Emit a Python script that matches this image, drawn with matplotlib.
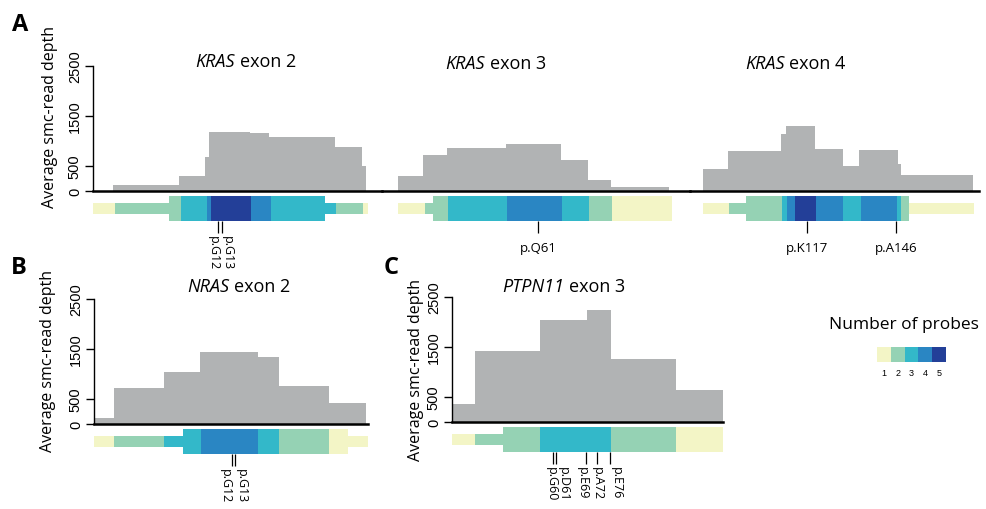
import matplotlib
matplotlib.use('Agg')
import matplotlib.pyplot as plt

plt.rcParams['font.family'] = ['Open Sans', 'DejaVu Sans']

probe_colors = ['#f3f5c6', '#95d2b4', '#33b8c9', '#2a86c3', '#233f98']
depth_gray = '#b1b3b4'

# KRAS exon 2
k2_edges = [20, 86, 112, 116, 157, 176, 242, 269, 273]
k2_depth = [120, 300, 675, 1175, 1160, 1075, 875, 505]
k2_seg = [0, 22, 76, 88, 114, 118, 158, 178, 232, 243, 270, 275]
k2_n = [1, 2, 2, 3, 4, 5, 4, 3, 3, 2, 1]
k2_core = [0, 0, 1, 1, 1, 1, 1, 1, 0, 0, 0]
k2_mut = ['p.G12', 'p.G13']
k2_mut_pos = [125, 129]
k2_lab_pos = [120, 134]

# KRAS exon 3
k3_edges = [0, 25, 49, 108, 163, 190, 213, 271]
k3_depth = [310, 713, 867, 933, 620, 220, 87]
k3_seg = [0, 27, 35, 50, 109, 164, 191, 214, 274]
k3_n = [1, 2, 2, 3, 4, 3, 2, 1]
k3_core = [0, 0, 1, 1, 1, 1, 1, 1]
k3_mut = ['p.Q61']
k3_mut_pos = [140]

# KRAS exon 4
k4_edges = [0, 25, 78, 83, 112, 140, 156, 195, 198, 270]
k4_depth = [450, 800, 1150, 1300, 847, 500, 813, 533, 330]
k4_seg = [0, 26, 43, 79, 84, 92, 113, 140, 158, 194, 198, 206, 271]
k4_n = [1, 2, 2, 3, 4, 5, 4, 3, 4, 3, 2, 1]
k4_core = [0, 0, 1, 1, 1, 1, 1, 1, 1, 1, 1, 0]
k4_mut = ['p.K117', 'p.A146']
k4_mut_pos = [104, 193]

# NRAS exon 2
n2_edges = [0, 20, 70, 106, 164, 185, 235, 272]
n2_depth = [113, 713, 1033, 1447, 1347, 753, 420]
n2_seg = [0, 20, 70, 89, 107, 164, 185, 235, 254, 274]
n2_n = [1, 2, 3, 3, 4, 3, 2, 1, 1]
n2_core = [0, 0, 0, 1, 1, 1, 1, 1, 0]
n2_mut = ['p.G12', 'p.G13']
n2_mut_pos = [138, 141]
n2_lab_pos = [131, 147]

# PTPN11 exon 3
p3_edges = [0, 23, 88, 135, 159, 224, 271]
p3_depth = [367, 1413, 2033, 2247, 1253, 633]
p3_seg = [0, 23, 51, 88, 159, 224, 272]
p3_n = [1, 2, 2, 3, 2, 1]
p3_core = [0, 0, 1, 1, 1, 1]
p3_mut = ['p.G60', 'p.D61', 'p.E69', 'p.A72', 'p.E76']
p3_mut_pos = [100.6, 104, 134, 145, 158]
p3_lab_pos = [99, 111, 130.5, 145.5, 164]

W, H = 986, 510
fig = plt.figure(figsize=(W / 100, H / 100), dpi=100)


def px_axes(left, right, top, bottom):
    return fig.add_axes([left / W, 1 - bottom / H, (right - left) / W, (bottom - top) / H])


def exon_panel(ax, edges, depth, seg, n, core, xlim, yaxis=True):
    ax.stairs(depth, edges, fill=True, color=depth_gray, linewidth=0)
    for i in range(len(n)):
        lo, hi = (-600, -100) if core[i] else (-460, -240)
        ax.bar(seg[i], hi - lo, bottom=lo, width=seg[i + 1] - seg[i], align='edge',
               color=probe_colors[n[i] - 1], linewidth=0)
    ax.set_xlim(*xlim)
    ax.set_ylim(-860, 2500)
    ax.set_xticks([])
    for s in ['top', 'right']:
        ax.spines[s].set_visible(False)
    ax.spines['bottom'].set_position(('data', 0))
    ax.spines['bottom'].set_linewidth(1.8)
    ax.patch.set_alpha(0)
    if yaxis:
        ax.spines['left'].set_bounds(0, 2500)
        ax.spines['left'].set_linewidth(1)
        ax.set_yticks([0, 500, 1500, 2500])
        ax.set_yticklabels(['0', '500', '1500', '2500'], rotation=90, va='center',
                           family=['Liberation Sans Narrow', 'Liberation Sans'], fontsize=10.5)
        ax.tick_params(axis='y', length=6, width=1, pad=2)
    else:
        ax.spines['left'].set_visible(False)
        ax.set_yticks([])


def marks(ax, names, pos, lab_pos=None):
    ax.vlines(pos, -840, -600, color='black', linewidth=0.9, clip_on=False)
    for i, name in enumerate(names):
        if lab_pos is None:
            ax.text(pos[i], -1000, name, ha='center', va='top', fontsize=9.5)
        else:
            ax.text(lab_pos[i], -880, name, ha='center', va='top', rotation=270, fontsize=9)


def title(ax, gene, rest, x, y):
    t = ax.text(x, y, gene, transform=ax.transAxes, style='italic',
                ha='left', va='baseline', fontsize=13)
    ax.annotate(rest, xy=(1, 0), xycoords=t, xytext=(3.5, 0), textcoords='offset points',
                ha='left', va='bottom', fontsize=13)


def ylab(ax, x, y):
    ax.text(x, y, 'Average smc-read depth', transform=ax.transAxes, rotation=90,
            ha='center', va='center', fontsize=11.5)


# row A
ax_k2 = px_axes(93, 382, 67, 235)
exon_panel(ax_k2, k2_edges, k2_depth, k2_seg, k2_n, k2_core, (0, 289))
marks(ax_k2, k2_mut, k2_mut_pos, k2_lab_pos)
title(ax_k2, 'KRAS', 'exon 2', 0.353, 1.0)
ylab(ax_k2, -0.149, 0.70)

ax_k3 = px_axes(382, 690, 67, 235)
exon_panel(ax_k3, k3_edges, k3_depth, k3_seg, k3_n, k3_core, (-16, 292), yaxis=False)
marks(ax_k3, k3_mut, k3_mut_pos)
title(ax_k3, 'KRAS', 'exon 3', 0.205, 0.99)

ax_k4 = px_axes(690, 979, 67, 235)
exon_panel(ax_k4, k4_edges, k4_depth, k4_seg, k4_n, k4_core, (-13, 276), yaxis=False)
marks(ax_k4, k4_mut, k4_mut_pos)
title(ax_k4, 'KRAS', 'exon 4', 0.190, 0.99)

# row B / C
ax_n2 = px_axes(94, 368, 300, 468)
exon_panel(ax_n2, n2_edges, n2_depth, n2_seg, n2_n, n2_core, (0, 274))
marks(ax_n2, n2_mut, n2_mut_pos, n2_lab_pos)
title(ax_n2, 'NRAS', 'exon 2', 0.339, 1.045)
ylab(ax_n2, -0.168, 0.637)

ax_p3 = px_axes(452, 723, 298, 466)
exon_panel(ax_p3, p3_edges, p3_depth, p3_seg, p3_n, p3_core, (0, 271))
marks(ax_p3, p3_mut, p3_mut_pos, p3_lab_pos)
title(ax_p3, 'PTPN11', 'exon 3', 0.185, 1.035)
ylab(ax_p3, -0.131, 0.571)

# panel letters
fig.text(20 / W, 1 - 25 / H, 'A', fontsize=17, fontweight='bold', ha='center', va='center')
fig.text(19 / W, 1 - 268 / H, 'B', fontsize=17, fontweight='bold', ha='center', va='center')
fig.text(391 / W, 1 - 268 / H, 'C', fontsize=17, fontweight='bold', ha='center', va='center')

# legend
fig.text(904 / W, 1 - 325 / H, 'Number of probes', fontsize=12.5, ha='center', va='center')
ax_leg = px_axes(877, 946, 348, 363)
levels = [1, 2, 3, 4, 5]
ax_leg.bar(levels, [1] * 5, width=1, color=probe_colors, linewidth=0)
ax_leg.set_xlim(0.5, 5.5)
ax_leg.set_ylim(0, 1)
ax_leg.set_yticks([])
ax_leg.set_xticks(levels)
ax_leg.set_xticklabels([str(v) for v in levels], family='Liberation Sans', fontsize=6.5)
ax_leg.tick_params(axis='x', length=0, pad=4)
for s in ax_leg.spines.values():
    s.set_visible(False)

fig.savefig('out.png', dpi=100)
